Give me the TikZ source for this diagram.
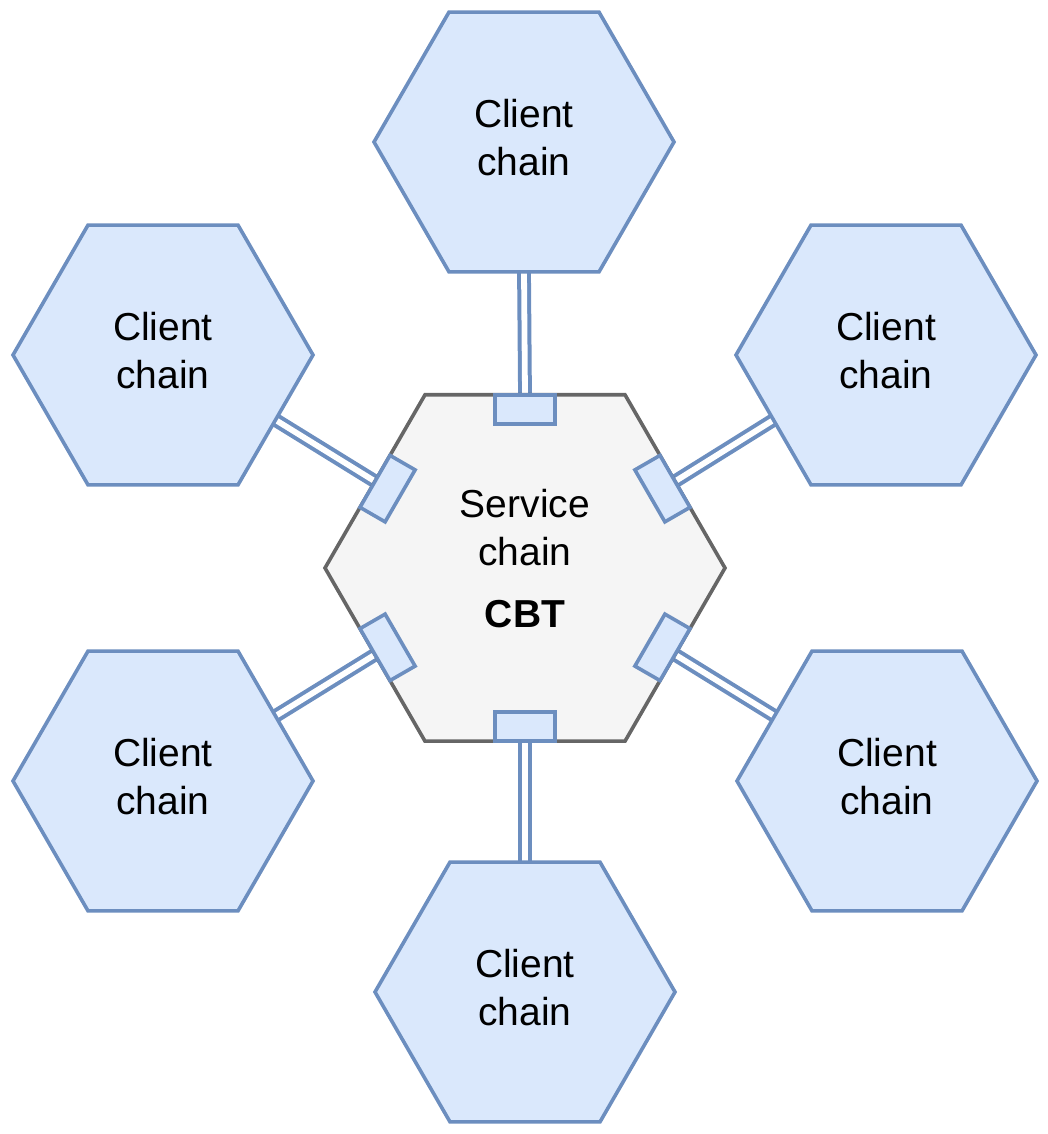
\documentclass[tikz,border=0pt]{standalone}
\usepackage{fontspec}
\setmainfont{Liberation Sans}
\usepackage{xcolor}
\usetikzlibrary{shapes.geometric,backgrounds}
\definecolor{clientfill}{HTML}{DAE8FC}
\definecolor{clientline}{HTML}{6C8EBF}
\definecolor{servicefill}{HTML}{F5F5F5}
\definecolor{serviceline}{HTML}{666666}
\tikzset{
	hexclient/.style={
			regular polygon, regular polygon sides=6, minimum size=150pt,
			inner sep=0pt, outer sep=0pt, line width=1.8pt,
			draw=clientline, fill=clientfill, align=center, text depth=4.5pt,
			font=\fontsize{19.5}{24}\selectfont
		},
	hexservice/.style={
			hexclient, minimum size=200pt, draw=serviceline, fill=servicefill,
			text depth=10pt
		},
	portbox/.style={
			rectangle, minimum width=30pt, minimum height=14.5pt,
			inner sep=0pt, outer sep=0pt, line width=1.8pt,
			draw=clientline, fill=clientfill, anchor=north
		},
	chainlink/.style={
			draw=clientline, line width=2pt, double=white, double distance=2.9pt
		}
}

\begin{document}
\begin{tikzpicture}[x=0.5pt, y=0.5pt]
		\useasboundingbox (0,0) rectangle (1048,1134);

		% Service chain in the middle
		\node[hexservice] (svc) at (525,566) {Service\\chain\\[7pt]\textbf{CBT}};

		% Client chains around it
		\node[hexclient] (cn) at (524,992) {Client\\chain};
		\node[hexclient] (cnw) at (163,779) {Client\\chain};
		\node[hexclient] (cne) at (886,779) {Client\\chain};
		\node[hexclient] (csw) at (163,353) {Client\\chain};
		\node[hexclient] (cse) at (887,353) {Client\\chain};
		\node[hexclient] (cs) at (525,142) {Client\\chain};

		% Ports on the sides of the service chain
		\node[portbox, rotate=0] (pn) at (svc.90) {};
		\node[portbox, rotate=60] (pnw) at (svc.150) {};
		\node[portbox, rotate=120] (psw) at (svc.210) {};
		\node[portbox, rotate=180] (ps) at (svc.270) {};
		\node[portbox, rotate=240] (pse) at (svc.330) {};
		\node[portbox, rotate=-60] (pne) at (svc.30) {};

		% Double links, behind the shapes
		\begin{scope}[on background layer]
			\draw[chainlink] (cn.270) -- (pn.north);
			\draw[chainlink] (cnw.330) -- (pnw.north);
			\draw[chainlink] (csw.30) -- (psw.north);
			\draw[chainlink] (cs.90) -- (ps.north);
			\draw[chainlink] (cse.150) -- (pse.north);
			\draw[chainlink] (cne.210) -- (pne.north);
		\end{scope}
	\end{tikzpicture}
\end{document}
